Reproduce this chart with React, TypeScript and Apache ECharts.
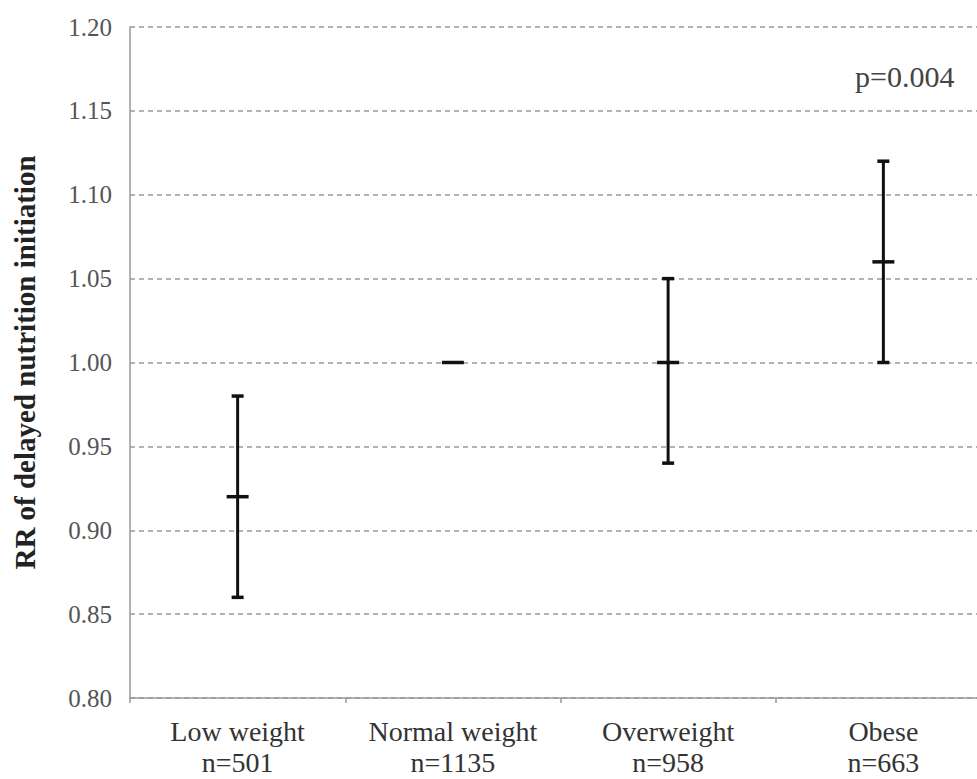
import React, { useEffect, useRef } from "react";
import * as echarts from "echarts";

const categories = ["Low weight", "Normal weight", "Overweight", "Obese"];
const sampleSizes = ["n=501", "n=1135", "n=958", "n=663"];
const estimates = [0.92, 1.0, 1.0, 1.06];
const lowerCI = [0.86, 1.0, 0.94, 1.0];
const upperCI = [0.98, 1.0, 1.05, 1.12];
const pValueText = "p=0.004";
const yTicks = { min: 0.8, max: 1.2, interval: 0.05 };

const FONT = "'Liberation Serif', 'Times New Roman', serif";

export default function App() {
  const ref = useRef<HTMLDivElement>(null);
  useEffect(() => {
    if (!ref.current) return;
    document.body.style.margin = "0";
    document.body.style.overflow = "hidden";
    const chart = echarts.init(ref.current, null, { renderer: "svg" });
    const data = categories.map((_, i) => [i, estimates[i], lowerCI[i], upperCI[i]]);
    chart.setOption({
      animation: false,
      grid: { left: 130, right: 0, top: 27, bottom: 81, containLabel: false },
      xAxis: {
        type: "category",
        data: categories.map((c, i) => c + "\n" + sampleSizes[i]),
        axisLine: { lineStyle: { color: "#999", width: 1.5 } },
        axisTick: { show: true, length: 5, lineStyle: { color: "#999", width: 1.5 } },
        axisLabel: {
          interval: 0,
          color: "#333",
          fontFamily: FONT,
          fontSize: 28,
          lineHeight: 31,
          margin: 18,
        },
        splitLine: { show: false },
      },
      yAxis: {
        type: "value",
        min: yTicks.min,
        max: yTicks.max,
        interval: yTicks.interval,
        name: "RR of delayed nutrition initiation",
        nameLocation: "middle",
        nameGap: 91,
        nameRotate: 90,
        nameTextStyle: {
          color: "#222",
          fontFamily: FONT,
          fontWeight: "bold",
          fontSize: 29,
        },
        axisLine: { show: true, lineStyle: { color: "#999", width: 1.5 } },
        axisTick: { show: false },
        axisLabel: {
          color: "#555",
          fontFamily: FONT,
          fontSize: 25,
          margin: 18,
          formatter: (v: number) => v.toFixed(2),
        },
        splitLine: { show: true, lineStyle: { color: "#999", width: 1.5, type: [5, 4] } },
      },
      series: [
        {
          type: "custom",
          data,
          renderItem: (params: any, api: any) => {
            const i = api.value(0);
            const mid = api.coord([i, api.value(1)]);
            const lo = api.coord([i, api.value(2)]);
            const hi = api.coord([i, api.value(3)]);
            const x = mid[0];
            const style = { stroke: "#111", lineWidth: 3 };
            const children: any[] = [];
            if (Math.abs(lo[1] - hi[1]) > 0.5) {
              children.push(
                { type: "line", shape: { x1: x, y1: lo[1], x2: x, y2: hi[1] }, style },
                { type: "line", shape: { x1: x - 6, y1: lo[1], x2: x + 6, y2: lo[1] }, style: { stroke: "#111", lineWidth: 3.5 } },
                { type: "line", shape: { x1: x - 6, y1: hi[1], x2: x + 6, y2: hi[1] }, style: { stroke: "#111", lineWidth: 3.5 } }
              );
            }
            children.push({
              type: "line",
              shape: { x1: x - 11, y1: mid[1], x2: x + 11, y2: mid[1] },
              style: { stroke: "#111", lineWidth: 3.5 },
            });
            return { type: "group", children };
          },
        },
      ],
      graphic: [
        {
          type: "text",
          left: 855,
          top: 61,
          style: {
            text: pValueText,
            fill: "#444",
            font: `30px ${FONT}`,
          },
        },
      ],
    });
    return () => chart.dispose();
  }, []);
  return (
    <div style={{ width: 977, height: 779, overflow: "hidden", position: "relative" }}>
      <div ref={ref} style={{ width: 991, height: 779 }} />
    </div>
  );
}
